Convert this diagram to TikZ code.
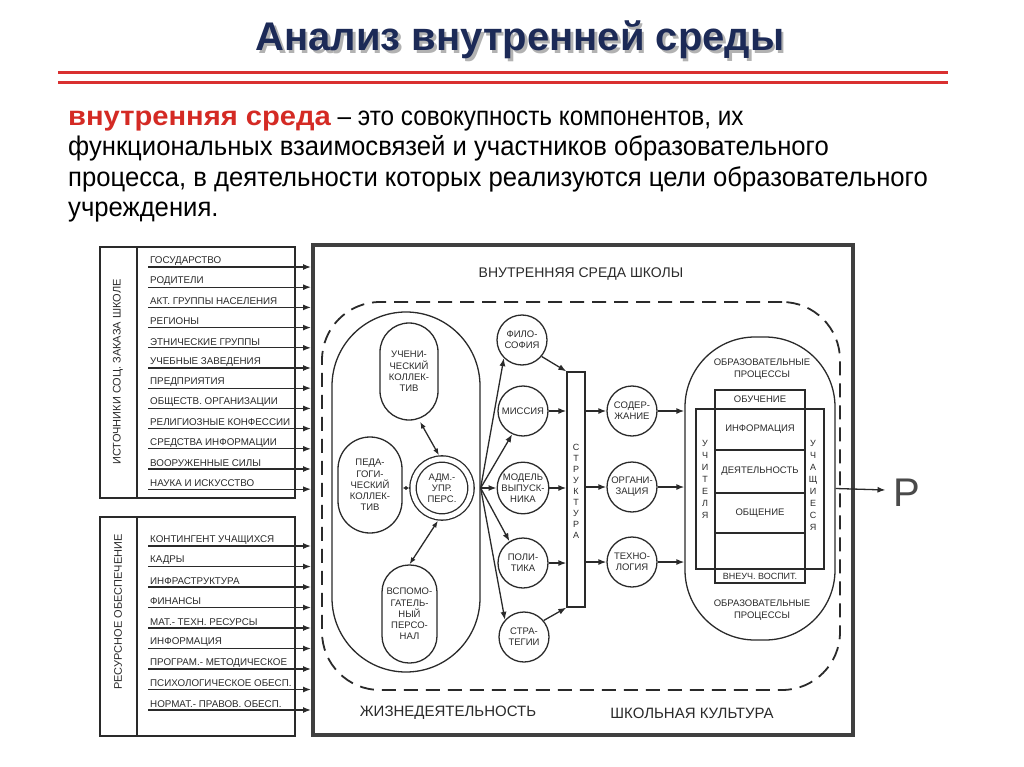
\documentclass[tikz,border=0pt]{standalone}
\usepackage{fontspec}
\setmainfont{Liberation Sans}
\newfontfamily\cond[FakeStretch=0.95]{Liberation Sans}
\newfontfamily\condb[FakeStretch=0.9]{Liberation Sans}
\newfontfamily\widebold[FakeStretch=1.08]{Liberation Sans}
\usetikzlibrary{arrows.meta,calc}
\definecolor{ink}{HTML}{2A2A2A}
\definecolor{navy}{HTML}{1C2A57}
\definecolor{redtxt}{HTML}{D42A24}
\definecolor{redline}{HTML}{D93030}
\begin{document}
\begin{tikzpicture}[x=1pt,y=-1pt,
  lw/.style={draw=ink, line width=1.3pt},
  arr/.style={lw, -{Latex[length=8pt,width=6pt]}},
  darr/.style={lw, {Latex[length=7pt,width=5pt]}-{Latex[length=7pt,width=5pt]}},
  sarr/.style={lw, {Latex[length=4pt,width=4pt]}-{Latex[length=4pt,width=4pt]}},
  itm/.style={anchor=west, inner sep=1pt, font=\fontsize{9.8}{12}\selectfont, text=ink},
  circ/.style={circle, lw, minimum size=50pt, inner sep=0pt, align=center, font=\fontsize{9.5}{11}\selectfont, text=ink},
  caps/.style={lw, inner sep=0pt, align=center, font=\fontsize{9.5}{11.2}\selectfont, text=ink},
  cell/.style={lw, minimum width=90pt, inner sep=0pt, font=\fontsize{9.5}{11}\selectfont, text=ink},
  vlet/.style={align=center, inner sep=0pt, font=\fontsize{9}{12}\selectfont, text=ink},
  para/.style={anchor=base west, inner sep=0pt, font=\cond\fontsize{27}{30}\selectfont, text=black},
]
\useasboundingbox (0,0) rectangle (1024,767);
% title
\node[font=\bfseries\fontsize{40}{40}\selectfont, text=black!30] (titlesh) at (522.5,43) {Анализ внутренней среды};
\node[font=\bfseries\fontsize{40}{40}\selectfont, text=navy] (title) at (520,40) {Анализ внутренней среды};
\draw[redline, line width=3pt] (58,73) -- (948,73);
\draw[redline, line width=3pt] (58,83) -- (948,83);
% paragraph
\node[para] (p1) at (68,126) {{\widebold\bfseries\color{redtxt}внутренняя среда}{\condb\ – это совокупность компонентов, их}};
\node[para] (p2) at (68,156) {функциональных взаимосвязей и участников образовательного};
\node[para] (p3) at (68,187) {процесса, в деятельности которых реализуются цели образовательного};
\node[para] (p4) at (68,217) {учреждения.};
% big box
\node[draw=ink!90, line width=4pt, minimum width=540pt, minimum height=490pt, inner sep=0pt] (big) at (583,490) {};
\node[font=\fontsize{14}{16}\selectfont, text=ink] (bigt) at (581,274) {ВНУТРЕННЯЯ СРЕДА ШКОЛЫ};
\node[draw=ink, line width=1.8pt, dash pattern=on 14pt off 8pt, rounded corners=58pt, minimum width=518pt, minimum height=388pt, inner sep=0pt] (dash) at (581,496) {};
\node[font=\fontsize{15}{17}\selectfont, text=ink] (zhiz) at (448,713) {ЖИЗНЕДЕЯТЕЛЬНОСТЬ};
\node[font=\fontsize{15}{17}\selectfont, text=ink] (kult) at (692,713) {ШКОЛЬНАЯ КУЛЬТУРА};
% left panels
\node[lw, line width=1.5pt, minimum width=195pt, minimum height=251pt, inner sep=0pt] (pan1) at (197.5,372.5) {};
\draw[lw] (137,247) -- (137,498);
\node[rotate=90, font=\fontsize{11}{13}\selectfont, text=ink] (pan1t) at (118,372) {ИСТОЧНИКИ СОЦ. ЗАКАЗА ШКОЛЕ};
\node[lw, line width=1.5pt, minimum width=195pt, minimum height=219pt, inner sep=0pt] (pan2) at (197.5,626.5) {};
\draw[lw] (137,517) -- (137,736);
\node[rotate=90, font=\fontsize{11}{13}\selectfont, text=ink] (pan2t) at (118,612) {РЕСУРСНОЕ ОБЕСПЕЧЕНИЕ};
\foreach \t [count=\i from 0] in {ГОСУДАРСТВО,РОДИТЕЛИ,АКТ. ГРУППЫ НАСЕЛЕНИЯ,РЕГИОНЫ,ЭТНИЧЕСКИЕ ГРУППЫ,УЧЕБНЫЕ ЗАВЕДЕНИЯ,ПРЕДПРИЯТИЯ,ОБЩЕСТВ. ОРГАНИЗАЦИИ,РЕЛИГИОЗНЫЕ КОНФЕССИИ,СРЕДСТВА ИНФОРМАЦИИ,ВООРУЖЕННЫЕ СИЛЫ,НАУКА И ИСКУССТВО}{
  \node[itm] (a\i) at (149,261+20.2*\i) {\t};
  \coordinate (al\i) at (148,267+20.2*\i);
  \draw[arr] (al\i) -- (al\i -| big.west);
}
\foreach \t [count=\i from 0] in {КОНТИНГЕНТ УЧАЩИХСЯ,КАДРЫ,ИНФРАСТРУКТУРА,ФИНАНСЫ,МАТ.- ТЕХН. РЕСУРСЫ,ИНФОРМАЦИЯ,ПРОГРАМ.- МЕТОДИЧЕСКОЕ,ПСИХОЛОГИЧЕСКОЕ ОБЕСП.,НОРМАТ.- ПРАВОВ. ОБЕСП.}{
  \node[itm] (b\i) at (149,540+20.5*\i) {\t};
  \coordinate (bl\i) at (148,546+20.5*\i);
  \draw[arr] (bl\i) -- (bl\i -| big.west);
}
% left pill
\node[lw, rounded corners=74pt, minimum width=148pt, minimum height=360pt, inner sep=0pt] (lpill) at (406,492) {};
\node[caps, rounded corners=29pt, minimum width=58pt, minimum height=97pt] (uch) at (409,371.5) {УЧЕНИ-\\ЧЕСКИЙ\\КОЛЛЕК-\\ТИВ};
\node[caps, rounded corners=32pt, minimum width=64pt, minimum height=96pt] (ped) at (370,485) {ПЕДА-\\ГОГИ-\\ЧЕСКИЙ\\КОЛЛЕК-\\ТИВ};
\node[caps, rounded corners=27pt, minimum width=55pt, minimum height=98pt] (vsp) at (409.5,614) {ВСПОМО-\\ГАТЕЛЬ-\\НЫЙ\\ПЕРСО-\\НАЛ};
\node[circle, draw=ink, line width=1.3pt, double=white, double distance=5pt, minimum size=58pt, inner sep=0pt, align=center, font=\fontsize{9.5}{11}\selectfont, text=ink] (adm) at (442,488) {АДМ.-\\УПР.\\ПЕРС.};
\draw[sarr] (ped.east |- adm.west) -- ($(adm.west)+(-3,0)$);
\draw[darr] ($(uch.south)+(11,1)$) -- ($(adm.north)+(-3,-3)$);
\draw[darr] ($(adm.south)+(-4,3)$) -- (vsp.north);
% first column
\node[circ] (phil) at (522,340) {ФИЛО-\\СОФИЯ};
\node[circ] (miss) at (523,411) {МИССИЯ};
\node[circ] (model) at (523,488) {МОДЕЛЬ\\ВЫПУСК-\\НИКА};
\node[circ] (polit) at (523,563) {ПОЛИ-\\ТИКА};
\node[circ] (strat) at (524,637) {СТРА-\\ТЕГИИ};
\coordinate (fan) at (lpill.east |- adm.east);
\draw[arr] (fan) -- (phil.225);
\draw[arr] (fan) -- (miss.245);
\draw[arr] (fan) -- (model.west);
\draw[arr] (fan) -- (polit.122);
\draw[arr] (fan) -- (strat.138);
% structure
\node[lw, minimum width=18pt, minimum height=235pt, inner sep=0pt] (struct) at (576,489.5) {};
\node[vlet, font=\fontsize{9}{11}\selectfont] (structt) at (576,491) {С\\Т\\Р\\У\\К\\Т\\У\\Р\\А};
\draw[arr] (phil.-40) -- (struct.north west);
\draw[arr] (miss) -- (miss -| struct.west);
\draw[arr] (model) -- (model -| struct.west);
\draw[arr] (polit) -- (polit -| struct.west);
\draw[arr] (strat.40) -- (struct.south west);
% second column
\node[circ] (cont) at (632,411) {СОДЕР-\\ЖАНИЕ};
\node[circ] (org) at (632,487) {ОРГАНИ-\\ЗАЦИЯ};
\node[circ] (tech) at (632,562) {ТЕХНО-\\ЛОГИЯ};
\draw[arr] (cont -| struct.east) -- (cont);
\draw[arr] (org -| struct.east) -- (org);
\draw[arr] (tech -| struct.east) -- (tech);
% right pill
\node[lw, rounded corners=70pt, minimum width=150pt, minimum height=303pt, inner sep=0pt] (rpill) at (760,488.5) {};
\draw[arr] (cont) -- (cont -| rpill.west);
\draw[arr] (org) -- (org -| rpill.west);
\draw[arr] (tech) -- (tech -| rpill.west);
\node[align=center, font=\fontsize{9.5}{12}\selectfont, text=ink] (optop) at (762,369) {ОБРАЗОВАТЕЛЬНЫЕ\\ПРОЦЕССЫ};
\node[align=center, font=\fontsize{9.5}{12}\selectfont, text=ink] (opbot) at (762,610) {ОБРАЗОВАТЕЛЬНЫЕ\\ПРОЦЕССЫ};
\node[lw, minimum width=128pt, minimum height=160pt, inner sep=0pt] (wide) at (760,489) {};
\node[cell, minimum height=19pt] (c1) at (760,399.5) {ОБУЧЕНИЕ};
\node[cell, minimum height=41pt] (c2) at (760,429.5) {ИНФОРМАЦИЯ};
\node[cell, minimum height=43pt] (c3) at (760,471.5) {ДЕЯТЕЛЬНОСТЬ};
\node[cell, minimum height=40pt] (c4) at (760,513) {ОБЩЕНИЕ};
\node[cell, minimum height=36pt] (c5) at (760,551) {};
\node[cell, minimum height=14pt, font=\fontsize{9}{10}\selectfont] (c6) at (760,576) {ВНЕУЧ. ВОСПИТ.};
\node[vlet] (teach) at (705,479) {У\\Ч\\И\\Т\\Е\\Л\\Я};
\node[vlet] (pupil) at (813,485) {У\\Ч\\А\\Щ\\И\\Е\\С\\Я};
% output
\node[font=\fontsize{40}{40}\selectfont, text=ink!85, inner sep=0pt] (res) at (907,493) {Р};
\draw[arr] (rpill.east) -- ($(res.west)+(-8,-3)$);
\end{tikzpicture}
\end{document}
